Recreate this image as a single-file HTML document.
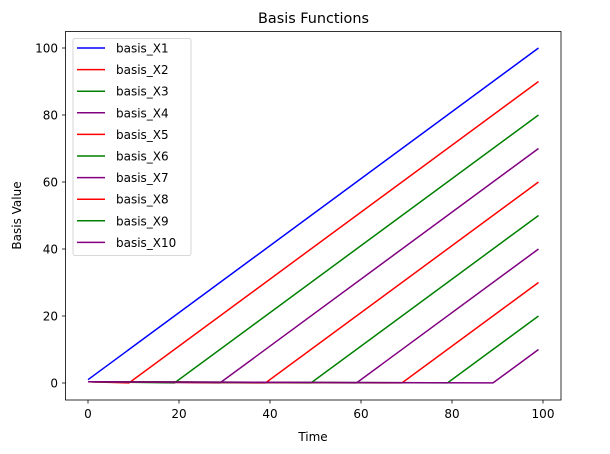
<!DOCTYPE html>
<html><head><meta charset="utf-8"><style>
body{margin:0;background:#fff}
svg{display:block;font-family:"DejaVu Sans","Liberation Sans",sans-serif}
</style></head><body>
<svg width="610" height="454" viewBox="0 0 610 454" xmlns="http://www.w3.org/2000/svg">
<rect width="610" height="454" fill="#fff"/>
<text x="313.5" y="23" font-size="14.4" text-anchor="middle">Basis Functions</text>
<g fill="none" stroke-width="1.5">
<polyline stroke="#0000ff" points="88,379.7 538.5,48"/>
<polyline stroke="#ff0000" points="88,381.7 129,382.9 538.5,81.5"/>
<polyline stroke="#008000" points="88,381.7 174.5,382.9 538.5,115"/>
<polyline stroke="#800080" points="88,381.7 220,382.9 538.5,148.5"/>
<polyline stroke="#ff0000" points="88,381.7 265.5,382.9 538.5,182"/>
<polyline stroke="#008000" points="88,381.7 311,382.9 538.5,215.5"/>
<polyline stroke="#800080" points="88,381.7 356.5,382.9 538.5,249"/>
<polyline stroke="#ff0000" points="88,381.7 402,382.9 538.5,282.5"/>
<polyline stroke="#008000" points="88,381.7 447.5,382.9 538.5,316"/>
<polyline stroke="#800080" points="88,381.7 493,382.9 538.5,349.5"/>
</g>
<rect x="65.5" y="31.5" width="495.5" height="368.5" fill="none" stroke="#000" stroke-width="0.8"/>
<g stroke="#000" stroke-width="0.8">
<line x1="88" y1="400" x2="88" y2="403.5"/><line x1="179" y1="400" x2="179" y2="403.5"/><line x1="270" y1="400" x2="270" y2="403.5"/><line x1="361" y1="400" x2="361" y2="403.5"/><line x1="452" y1="400" x2="452" y2="403.5"/><line x1="543" y1="400" x2="543" y2="403.5"/>
<line x1="62" y1="383" x2="65.5" y2="383"/><line x1="62" y1="316" x2="65.5" y2="316"/><line x1="62" y1="249" x2="65.5" y2="249"/><line x1="62" y1="182" x2="65.5" y2="182"/><line x1="62" y1="115" x2="65.5" y2="115"/><line x1="62" y1="48" x2="65.5" y2="48"/>
</g>
<g font-size="12" text-anchor="middle">
<text x="88" y="418">0</text><text x="179" y="418">20</text><text x="270" y="418">40</text><text x="361" y="418">60</text><text x="452" y="418">80</text><text x="543" y="418">100</text>
<text x="313" y="441">Time</text>
</g>
<g font-size="12" text-anchor="end">
<text x="58" y="387.5">0</text><text x="58" y="320.5">20</text><text x="58" y="253.5">40</text><text x="58" y="186.5">60</text><text x="58" y="119.5">80</text><text x="58" y="52.5">100</text>
</g>
<text transform="translate(21,215.5) rotate(-90)" font-size="12" text-anchor="middle">Basis Value</text>
<rect x="73" y="38.5" width="118" height="217" fill="#fff" fill-opacity="0.8" stroke="#ccc" stroke-width="0.8" rx="2"/>
<g stroke-width="1.5">
<line x1="77" x2="105" y1="48" y2="48" stroke="#0000ff"/>
<line x1="77" x2="105" y1="69.6" y2="69.6" stroke="#ff0000"/>
<line x1="77" x2="105" y1="91.2" y2="91.2" stroke="#008000"/>
<line x1="77" x2="105" y1="112.8" y2="112.8" stroke="#800080"/>
<line x1="77" x2="105" y1="134.4" y2="134.4" stroke="#ff0000"/>
<line x1="77" x2="105" y1="156" y2="156" stroke="#008000"/>
<line x1="77" x2="105" y1="177.6" y2="177.6" stroke="#800080"/>
<line x1="77" x2="105" y1="199.2" y2="199.2" stroke="#ff0000"/>
<line x1="77" x2="105" y1="220.8" y2="220.8" stroke="#008000"/>
<line x1="77" x2="105" y1="242.4" y2="242.4" stroke="#800080"/>
</g>
<g font-size="12">
<text x="116" y="52.5">basis_X1</text>
<text x="116" y="74.1">basis_X2</text>
<text x="116" y="95.7">basis_X3</text>
<text x="116" y="117.3">basis_X4</text>
<text x="116" y="138.9">basis_X5</text>
<text x="116" y="160.5">basis_X6</text>
<text x="116" y="182.1">basis_X7</text>
<text x="116" y="203.7">basis_X8</text>
<text x="116" y="225.3">basis_X9</text>
<text x="116" y="246.9">basis_X10</text>
</g>
</svg>
</body></html>
